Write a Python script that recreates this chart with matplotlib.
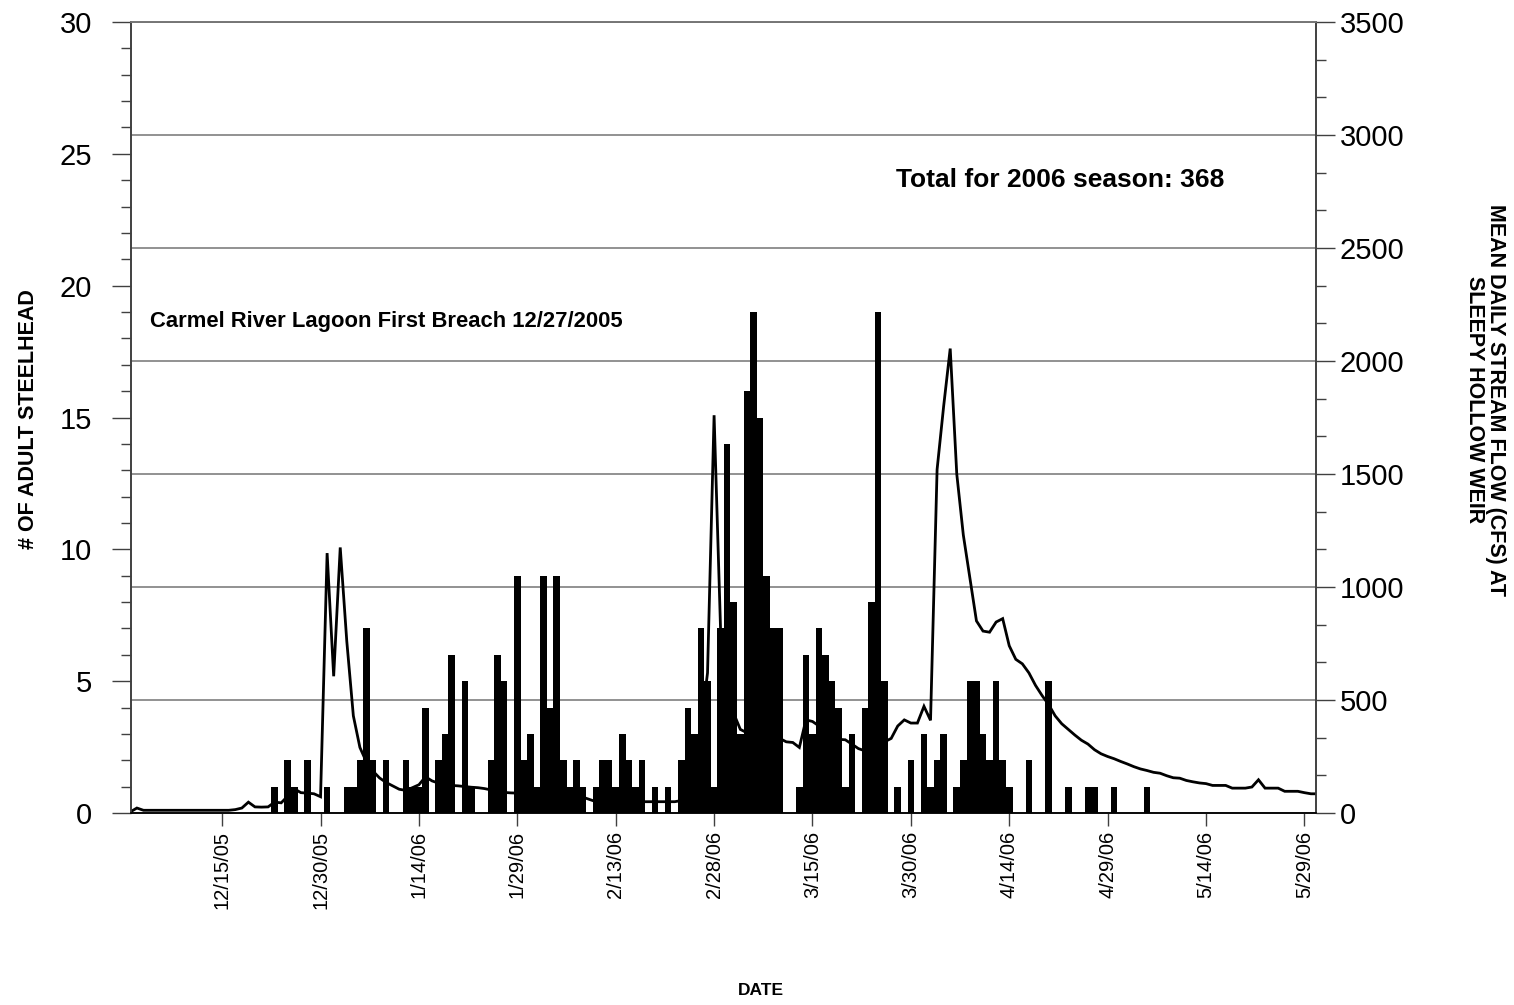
import matplotlib
matplotlib.use("Agg")
import matplotlib.pyplot as plt
from matplotlib.ticker import MultipleLocator
import matplotlib.dates as mdates
import pandas as pd
import datetime as dt

# ---------------- data ----------------
flow_start = "2005-12-01"
flow_cfs = [
    5, 22, 12, 12, 12, 12, 12, 12, 12, 12,
    12, 12, 12, 12, 12, 12, 15, 22, 48, 27,
    26, 27, 48, 45, 75, 107, 90, 88, 85, 72,
    1150, 605, 1175, 760, 430, 290, 225, 185, 155, 135,
    120, 105, 100, 112, 125, 160, 142, 132, 126, 122,
    120, 117, 114, 112, 108, 102, 95, 91, 89, 88,
    87, 86, 85, 84, 82, 80, 78, 76, 72, 70,
    60, 50, 50, 50, 50, 50, 50, 50, 50, 50,
    50, 50, 50, 50, 55, 90, 200, 380, 620, 1760,
    800, 560, 440, 370, 355, 345, 340, 335, 332, 330,
    315, 312, 290, 412, 405, 385, 360, 345, 326, 324,
    305, 285, 275, 275, 295, 315, 330, 385, 412, 398,
    398, 472, 410, 1520, 1800, 2055, 1500, 1230, 1040, 850,
    805, 800, 845, 860, 740, 680, 660, 620, 565, 520,
    480, 430, 395, 370, 345, 322, 305, 280, 262, 250,
    240, 228, 217, 205, 195, 188, 180, 176, 165, 156,
    154, 144, 138, 133, 130, 122, 122, 122, 110, 110,
    110, 115, 147, 110, 110, 110, 96, 96, 96, 90,
    85, 85,
]

fish_dates = [
    "12/23/05", "12/25/05", "12/26/05", "12/28/05", "12/31/05",
    "1/3/06", "1/4/06", "1/5/06", "1/6/06", "1/7/06", "1/9/06",
    "1/12/06", "1/13/06", "1/14/06", "1/15/06", "1/17/06", "1/18/06",
    "1/19/06", "1/21/06", "1/22/06", "1/25/06", "1/26/06", "1/27/06",
    "1/29/06", "1/30/06", "1/31/06",
    "2/1/06", "2/2/06", "2/3/06", "2/4/06", "2/5/06", "2/6/06", "2/7/06",
    "2/8/06", "2/10/06", "2/11/06", "2/12/06", "2/13/06", "2/14/06",
    "2/15/06", "2/16/06", "2/17/06", "2/19/06", "2/21/06", "2/23/06",
    "2/24/06", "2/25/06", "2/26/06", "2/27/06", "2/28/06",
    "3/1/06", "3/2/06", "3/3/06", "3/4/06", "3/5/06", "3/6/06", "3/7/06",
    "3/8/06", "3/9/06", "3/10/06", "3/13/06", "3/14/06", "3/15/06",
    "3/16/06", "3/17/06", "3/18/06", "3/19/06", "3/20/06", "3/21/06",
    "3/23/06", "3/24/06", "3/25/06", "3/26/06", "3/28/06", "3/30/06",
    "4/1/06", "4/2/06", "4/3/06", "4/4/06", "4/6/06", "4/7/06", "4/8/06",
    "4/9/06", "4/10/06", "4/11/06", "4/12/06", "4/13/06", "4/14/06",
    "4/17/06", "4/20/06", "4/23/06", "4/26/06", "4/27/06", "4/30/06",
    "5/5/06",
]
fish_counts = [
    1, 2, 1, 2, 1,
    1, 1, 2, 7, 2, 2,
    2, 1, 1, 4, 2, 3,
    6, 5, 1, 2, 6, 5,
    9, 2, 3,
    1, 9, 4, 9, 2, 1, 2,
    1, 1, 2, 2, 1, 3,
    2, 1, 2, 1, 1, 2,
    4, 3, 7, 5, 1,
    7, 14, 8, 3, 16, 19, 15,
    9, 7, 7, 1, 6, 3,
    7, 6, 5, 4, 1, 3,
    4, 8, 19, 5, 1, 2,
    3, 1, 2, 3, 1, 2, 5,
    5, 3, 2, 5, 2, 1,
    2, 5, 1, 1, 1, 1,
    1,
]

tick_labels = ["12/15/05", "12/30/05", "1/14/06", "1/29/06", "2/13/06",
               "2/28/06", "3/15/06", "3/30/06", "4/14/06", "4/29/06",
               "5/14/06", "5/29/06"]

season_text = "Total for 2006 season: 368"
breach_text = "Carmel River Lagoon First Breach 12/27/2005"

# ---------------- figure ----------------
plt.rcParams['font.family'] = ['Liberation Sans', 'DejaVu Sans']

W, H = 1514, 1005
fig = plt.figure(figsize=(W / 100, H / 100), dpi=100)
L, R, T, B = 131, 1316, 22, 813
ax = fig.add_axes([L / W, 1 - B / H, (R - L) / W, (B - T) / H])
ax2 = ax.twinx()

# fish bars on ax (drawn above ax2 grid), flow line on ax2
ax.set_zorder(2)
ax.patch.set_visible(False)
ax2.set_zorder(1)
ax2.patch.set_visible(True)
ax2.patch.set_facecolor("white")

flow_x = pd.date_range(flow_start, periods=len(flow_cfs), freq="D")
ax2.plot(flow_x, flow_cfs, color="black", lw=2.0, solid_joinstyle="miter", zorder=3)

fish_x = pd.to_datetime(fish_dates, format="%m/%d/%y")
ax.bar(fish_x, fish_counts, width=1.0, color="black", linewidth=0, align="center", zorder=3)

x0 = dt.datetime(2005, 12, 1)
ax.set_xlim(x0 + dt.timedelta(days=0.1), x0 + dt.timedelta(days=180.77))
tick_x = pd.to_datetime(tick_labels, format="%m/%d/%y")
ax.set_xticks(mdates.date2num(tick_x))
ax.set_xticklabels(tick_labels, rotation=90, fontsize=14.5)
ax.tick_params(axis="x", direction="out", length=9, width=1.0, pad=4, color="#404040")

ax.set_ylim(0, 30)
ax.yaxis.set_major_locator(MultipleLocator(5))
ax.yaxis.set_minor_locator(MultipleLocator(1))
ax.tick_params(axis="y", which="major", direction="out", length=14, width=1.0,
               labelsize=21, pad=14, color="#404040")
ax.tick_params(axis="y", which="minor", direction="out", length=7, width=1.0, color="#404040")

ax2.set_ylim(0, 3500)
ax2.yaxis.set_major_locator(MultipleLocator(500))
ax2.yaxis.set_minor_locator(MultipleLocator(500 / 3))
ax2.tick_params(axis="y", which="major", direction="out", length=14, width=1.0,
                labelsize=21, pad=3, color="#404040")
ax2.tick_params(axis="y", which="minor", direction="out", length=7, width=1.0, color="#404040")
ax2.yaxis.grid(True, which="major", color="#7f7f7f", lw=1.2)
ax2.set_axisbelow(True)

for a in (ax, ax2):
    for s in a.spines.values():
        s.set_color("#404040")
        s.set_linewidth(1.2)
ax.spines["bottom"].set_color("black")
ax.spines["top"].set_color("#7f7f7f")

# texts
ax.text(0.016, 0.621, breach_text, transform=ax.transAxes, fontsize=15.8,
        fontweight="bold", ha="left", va="center", zorder=5)
ax.text(0.784, 0.800, season_text, transform=ax.transAxes, fontsize=19,
        fontweight="bold", ha="center", va="center", zorder=5)

fig.text(28 / W, 1 - 419 / H, "# OF ADULT STEELHEAD", rotation=90, ha="center",
         va="center", fontsize=15.5, fontweight="bold")
fig.text(1485 / W, 1 - 400 / H, "MEAN DAILY STREAM FLOW (CFS) AT\nSLEEPY HOLLOW WEIR",
         rotation=270, ha="center", va="center", multialignment="center",
         fontsize=15.5, fontweight="bold", linespacing=0.95)
fig.text(761 / W, 1 - 990 / H, "DATE", ha="center", va="center", fontsize=12.5,
         fontweight="bold")

fig.savefig("out.png", dpi=100)
